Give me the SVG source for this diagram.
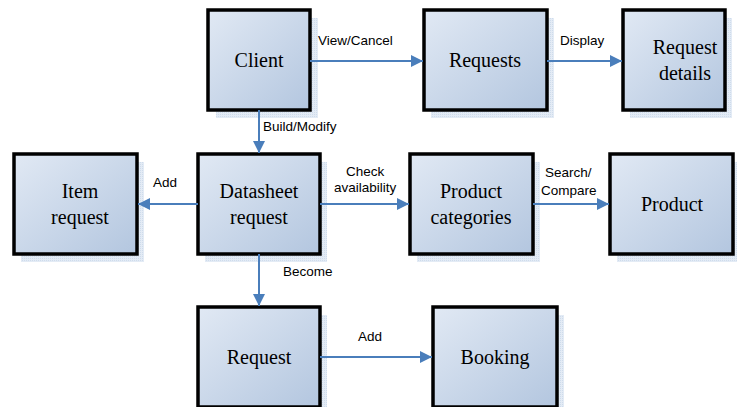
<svg xmlns="http://www.w3.org/2000/svg" width="737" height="407" viewBox="0 0 737 407">
<defs>
<linearGradient id="g" x1="0" y1="0" x2="1" y2="1">
<stop offset="0" stop-color="#e1e9f4"/>
<stop offset="1" stop-color="#b3c6df"/>
</linearGradient>
<pattern id="dots" width="2" height="2" patternUnits="userSpaceOnUse">
<rect width="2" height="2" fill="#e3ebf5"/>
<rect width="1" height="1" fill="#cfdcec"/>
</pattern>
<marker id="arr" viewBox="0 0 10 10" refX="10" refY="5" markerWidth="12" markerHeight="12" markerUnits="userSpaceOnUse" orient="auto">
<path d="M0,0 L10,5 L0,10 z" fill="#4a7ebb"/>
</marker>
</defs>
<style>
.sh{fill:url(#dots);}
.bx{fill:url(#g);stroke:#000;stroke-width:3.5;}
.nt{font-family:'Liberation Serif','Times New Roman','Tinos','DejaVu Serif',serif;font-size:20px;fill:#000;text-anchor:middle;}
.el{font-family:'Liberation Sans',Arial,sans-serif;font-size:13.5px;fill:#000;}
.cn{stroke:#4a7ebb;stroke-width:2;fill:none;marker-end:url(#arr);}
</style>
<rect width="737" height="407" fill="#fff"/>

<g id="client">
<rect class="sh" x="216" y="18" width="102" height="100"/>
<rect class="bx" x="208" y="10" width="102" height="100"/>
<text class="nt" x="259" y="67">Client</text>
</g>
<g id="requests">
<rect class="sh" x="431" y="18" width="123" height="100"/>
<rect class="bx" x="424" y="10" width="123" height="100"/>
<text class="nt" x="485" y="67">Requests</text>
</g>
<g id="request-details">
<rect class="sh" x="630" y="18" width="102" height="100"/>
<rect class="bx" x="623" y="10" width="102" height="100"/>
<text class="nt" x="685" y="54">Request</text>
<text class="nt" x="685" y="80">details</text>
</g>
<g id="item-request">
<rect class="sh" x="21" y="162" width="123" height="100"/>
<rect class="bx" x="14" y="154" width="123" height="100"/>
<text class="nt" x="80" y="198">Item</text>
<text class="nt" x="80" y="224">request</text>
</g>
<g id="datasheet-request">
<rect class="sh" x="205" y="162" width="122" height="100"/>
<rect class="bx" x="198" y="154" width="122" height="100"/>
<text class="nt" x="259" y="198">Datasheet</text>
<text class="nt" x="259" y="224">request</text>
</g>
<g id="product-categories">
<rect class="sh" x="417" y="162" width="123" height="100"/>
<rect class="bx" x="410" y="154" width="123" height="100"/>
<text class="nt" x="471" y="198">Product</text>
<text class="nt" x="471" y="224">categories</text>
</g>
<g id="product">
<rect class="sh" x="617" y="162" width="123" height="100"/>
<rect class="bx" x="610" y="154" width="123" height="100"/>
<text class="nt" x="672" y="211">Product</text>
</g>
<g id="request">
<rect class="sh" x="205" y="315" width="122" height="100"/>
<rect class="bx" x="198" y="307" width="122" height="100"/>
<text class="nt" x="259" y="364">Request</text>
</g>
<g id="booking">
<rect class="sh" x="440" y="315" width="124" height="100"/>
<rect class="bx" x="433" y="307" width="124" height="100"/>
<text class="nt" x="495" y="364">Booking</text>
</g>

<g id="connectors">
<line class="cn" x1="310" y1="61" x2="423" y2="61"/>
<line class="cn" x1="547" y1="61" x2="622" y2="61"/>
<line class="cn" x1="259" y1="110" x2="259" y2="153"/>
<line class="cn" x1="198" y1="204" x2="138" y2="204"/>
<line class="cn" x1="320" y1="204" x2="409" y2="204"/>
<line class="cn" x1="533" y1="204" x2="609" y2="204"/>
<line class="cn" x1="259" y1="254" x2="259" y2="306"/>
<line class="cn" x1="320" y1="357" x2="432" y2="357"/>
<text class="el" x="318" y="45">View/Cancel</text>
<text class="el" x="560" y="45">Display</text>
<text class="el" x="263" y="131">Build/Modify</text>
<text class="el" x="153" y="187">Add</text>
<text class="el" x="346" y="176">Check</text>
<text class="el" x="334" y="192">availability</text>
<text class="el" x="545" y="177">Search/</text>
<text class="el" x="541" y="195">Compare</text>
<text class="el" x="283" y="276">Become</text>
<text class="el" x="358" y="341">Add</text>
</g>
</svg>
